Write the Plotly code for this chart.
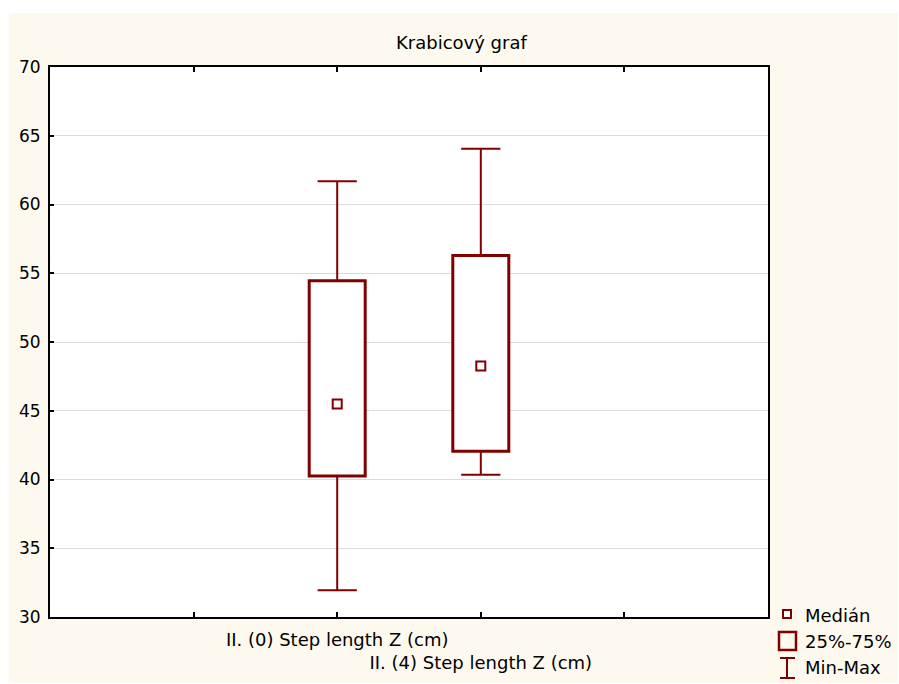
import plotly.graph_objects as go

# Box statistics for the two measurements
categories = ["II. (0) Step length Z (cm)", "II. (4) Step length Z (cm)"]
positions = [2, 3]
q1 = [40.25, 42.05]
q3 = [54.45, 56.3]
medians = [45.5, 48.25]
mins = [31.95, 40.35]
maxs = [61.7, 64.05]

DARK_RED = "#800000"
CREAM = "#FDF9EE"
FONT = "DejaVu Sans, Arial, sans-serif"

W, H = 899, 684
L, R, T, B = 50, 131, 67, 67
PW, PH = W - L - R, H - T - B


def px(x):
    return (x - L) / PW


def py(y):
    return (H - B - y) / PH


fig = go.Figure()

# Interquartile boxes
fig.add_trace(go.Bar(
    x=positions,
    base=q1,
    y=[b - a for a, b in zip(q1, q3)],
    width=0.39,
    marker=dict(color="white", line=dict(color=DARK_RED, width=3)),
    hoverinfo="skip",
    showlegend=False,
))

# Whiskers from box edges to min / max
wx, wy = [], []
for p, lo, hi, a, b in zip(positions, mins, maxs, q1, q3):
    wx += [p, p, None, p, p, None]
    wy += [b, hi, None, a, lo, None]
fig.add_trace(go.Scatter(
    x=wx, y=wy, mode="lines",
    line=dict(color=DARK_RED, width=2),
    hoverinfo="skip", showlegend=False,
))

# Whisker caps
fig.add_trace(go.Scatter(
    x=positions + positions,
    y=mins + maxs,
    mode="markers",
    marker=dict(symbol="line-ew-open", size=28, color=DARK_RED,
                line=dict(color=DARK_RED, width=2)),
    hoverinfo="skip", showlegend=False,
))

# Median markers
fig.add_trace(go.Scatter(
    x=positions, y=medians, mode="markers",
    marker=dict(symbol="square-open", size=9,
                line=dict(color=DARK_RED, width=2), color=DARK_RED),
    showlegend=False,
))

shapes = []
# white strips around the cream background
for x0, x1, y0, y1 in [(0, 9, 0, H), (898, W, 0, H), (0, W, 0, 13), (0, W, 683, H)]:
    shapes.append(dict(type="rect", xref="paper", yref="paper",
                       x0=px(x0), x1=px(x1), y0=py(y1), y1=py(y0),
                       fillcolor="white", line=dict(width=0), layer="below"))

# legend glyphs
shapes.append(dict(type="rect", xref="paper", yref="paper",
                   x0=px(783), x1=px(791), y0=py(618), y1=py(610),
                   line=dict(color=DARK_RED, width=2), fillcolor="white"))
shapes.append(dict(type="rect", xref="paper", yref="paper",
                   x0=px(779), x1=px(796), y0=py(650), y1=py(632),
                   line=dict(color=DARK_RED, width=2.5), fillcolor="rgba(0,0,0,0)"))
for x0, x1, y0, y1 in [(787, 787, 658, 678), (780, 795, 658, 658), (780, 795, 678, 678)]:
    shapes.append(dict(type="line", xref="paper", yref="paper",
                       x0=px(x0), x1=px(x1), y0=py(y0), y1=py(y1),
                       line=dict(color=DARK_RED, width=2)))

annotations = [
    dict(text="Krabicový graf", xref="paper", yref="paper",
         x=px(461), y=py(42), showarrow=False, xanchor="center", yanchor="middle",
         font=dict(family=FONT, size=18, color="black")),
]
for label, yc in [("Medián", 615), ("25%-75%", 641), ("Min-Max", 667)]:
    annotations.append(dict(text=label, xref="paper", yref="paper",
                            x=px(803), y=py(yc), showarrow=False,
                            xanchor="left", yanchor="middle",
                            font=dict(family=FONT, size=18, color="black")))

fig.update_layout(
    width=W, height=H,
    margin=dict(l=L, r=R, t=T, b=B, pad=0),
    paper_bgcolor=CREAM,
    plot_bgcolor="white",
    showlegend=False,
    shapes=shapes,
    annotations=annotations,
    font=dict(family=FONT, size=16, color="black"),
    xaxis=dict(
        range=[0, 5],
        tickvals=[1, 2, 3, 4],
        ticktext=["", categories[0], "<br>" + categories[1], ""],
        tickangle=0, automargin=False, ticklabelstandoff=5,
        ticks="inside", ticklen=5, tickwidth=1.5, tickcolor="black",
        showline=True, linecolor="black", linewidth=2, mirror="ticks",
        showgrid=False, zeroline=False,
        tickfont=dict(family=FONT, size=18, color="black"),
    ),
    yaxis=dict(
        range=[30, 70],
        tickvals=list(range(30, 71, 5)),
        automargin=False, ticklabelstandoff=4,
        ticks="inside", ticklen=4, tickwidth=1.5, tickcolor="black",
        showline=True, linecolor="black", linewidth=2, mirror=True,
        showgrid=True, gridcolor="#DCDCDC", gridwidth=1,
        zeroline=False,
        tickfont=dict(family=FONT, size=17, color="black"),
    ),
)

fig.write_html("out.html")
